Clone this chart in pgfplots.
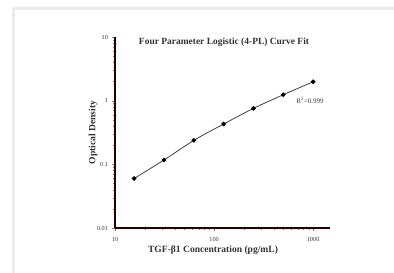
\documentclass[border=0pt]{standalone}
\usepackage{pgfplots}
\pgfplotsset{compat=1.18}
\usepackage{fontspec}
\setmainfont{Liberation Serif}
\begin{document}
\begin{tikzpicture}
\fill[white] (0bp,0bp) rectangle (394bp,273bp);
\fill[black!8] (12bp,0bp) rectangle (15bp,266bp);
\fill[black!8] (12bp,263bp) rectangle (394bp,266bp);
\begin{axis}[
  at={(115bp,45bp)}, anchor=south west,
  scale only axis, width=215bp, height=191bp,
  xmode=log, ymode=log,
  xmin=10, xmax=1480, ymin=0.01, ymax=10,
  axis x line*=bottom, axis y line*=left,
  axis line style={red!15!black, line width=1.5pt},
  tick align=outside,
  major tick length=3.5bp, minor tick length=2bp,
  xtick={10,100,1000}, xticklabels={10,100,1000},
  ytick={0.01,0.1,1,10}, yticklabels={0.01,0.1,1,10},
  /pgf/number format/assume math mode=true,
  ticklabel style={font=\fontsize{6.3}{7}\selectfont, text=black!80},
  xticklabel style={yshift=-2bp},
  xlabel={\textbf{TGF-β1 Concentration (pg/mL)}},
  ylabel={\textbf{Optical Density}},
  xlabel style={at={(axis description cs:0.456,-0.115)}, anchor=center, font=\fontsize{9.6}{11}\selectfont, text=black!80},
  ylabel style={at={(axis description cs:-0.102,0.5)}, anchor=center, font=\fontsize{9.6}{11}\selectfont, text=black!80},
  clip=false,
]
\addplot[black!75, line width=0.8pt, smooth, mark=*, mark size=1.9bp, mark options={fill=black, draw=black}]
coordinates {
(15.6,0.060)
(31.25,0.117)
(62.5,0.238)
(125,0.43)
(250,0.757)
(500,1.24)
(1000,1.98)
};
\node[font=\bfseries\fontsize{9.5}{11}\selectfont, text=black!80] at (axis description cs:0.507,0.974) {Four Parameter Logistic (4-PL) Curve Fit};
\node[font=\fontsize{7}{8}\selectfont, text=black!75] at (axis description cs:0.907,0.670) {R\textsuperscript{2}=0.999};
\end{axis}
\end{tikzpicture}
\end{document}
